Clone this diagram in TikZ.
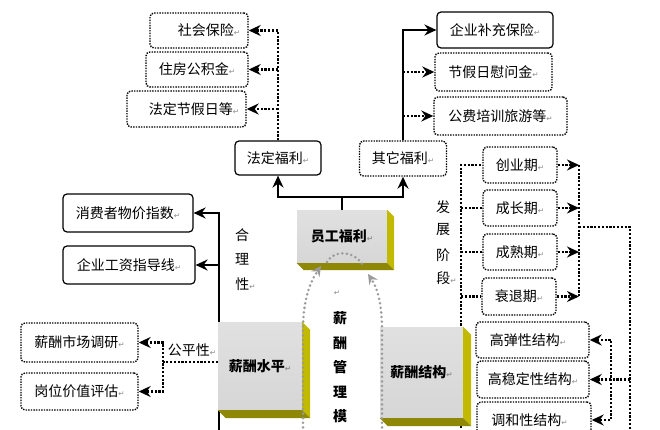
\documentclass[tikz,border=0pt]{standalone}
\usepackage{fontspec}
\usetikzlibrary{arrows.meta}
\newfontfamily\cjk{Noto Sans CJK SC}
\newfontfamily\djv{DejaVu Sans}
\newcommand\parmk{{\djv\fontsize{7.5}{7.5}\selectfont\color{black!45}↵}}
\definecolor{sidecol}{HTML}{C2BA00}
\definecolor{botcol}{HTML}{8E8806}
\definecolor{arcgray}{HTML}{9A9A9A}
\pgfdeclarelayer{back}
\pgfdeclarelayer{bg}
\pgfsetlayers{back,bg,main}
\tikzset{
  Ah/.tip={Stealth[length=12pt,width=11pt,inset=4pt]},
  Gh/.tip={Stealth[length=10pt,width=10pt,inset=3.5pt]},
  txt/.style={font=\cjk\fontsize{14}{16}\selectfont, inner sep=0pt},
  sbox/.style={txt, draw, line width=1.2pt, rounded corners=4pt, fill=white},
  dbox/.style={txt, draw, line width=1.4pt, dash pattern=on 1.4pt off 1.2pt, rounded corners=4pt, fill=white},
  cube/.style={txt, font=\cjk\bfseries\fontsize{14}{16}\selectfont, top color=white!88!black, bottom color=black!16, middle color=black!14},
  sline/.style={line width=2pt, line join=miter},
  dline/.style={line width=2.3pt, dash pattern=on 2.2pt off 1.6pt},
  garc/.style={arcgray, line width=2.8pt, dash pattern=on 0pt off 4.6pt, line cap=round},
  vtxt/.style={txt},
  vbtxt/.style={txt, font=\cjk\bfseries\fontsize{14}{16}\selectfont},
}
\begin{document}
\begin{tikzpicture}[x=1pt,y=-1pt]
\begin{pgfonlayer}{back}
\fill[white] (0,0) rectangle (660,430);
\end{pgfonlayer}
\useasboundingbox (0,0) rectangle (660,430);
\clip (0,0) rectangle (660,430);

% ---------- boxes ----------
\node[dbox, minimum width=98pt, minimum height=35pt] (shbx) at (199,30.5) {\hspace*{20pt}社会保险\parmk};
\node[dbox, minimum width=102pt, minimum height=35pt] (zfgjj) at (197,69.5) {住房公积金\parmk};
\node[dbox, minimum width=119pt, minimum height=36pt] (fdjr) at (186.5,109) {\hspace*{15pt}法定节假日等\parmk};
\node[sbox, minimum width=86pt, minimum height=34pt] (fdfl) at (278,158) {法定福利\parmk};
\node[dbox, minimum width=87pt, minimum height=35pt] (qtfl) at (403,158.5) {其它福利\parmk};
\node[sbox, minimum width=116pt, minimum height=36pt] (qybc) at (495,30) {企业补充保险\parmk};
\node[dbox, minimum width=117pt, minimum height=38pt] (jjr) at (493.5,72) {节假日慰问金\parmk};
\node[dbox, minimum width=133pt, minimum height=38pt] (gfpx) at (500.5,116) {公费培训旅游等\parmk};
\node[sbox, minimum width=130pt, minimum height=38pt] (xfz) at (128,213) {消费者物价指数\parmk};
\node[sbox, minimum width=132pt, minimum height=38pt] (qygz) at (129,265) {企业工资指导线\parmk};
\node[dbox, minimum width=117pt, minimum height=39pt] (xcsc) at (79.5,342.5) {薪酬市场调研\parmk};
\node[dbox, minimum width=117pt, minimum height=37pt] (gwjz) at (79.5,391.5) {岗位价值评估\parmk};
\node[dbox, minimum width=74pt, minimum height=36pt] (cyq) at (520,165) {创业期\parmk};
\node[dbox, minimum width=74pt, minimum height=36pt] (czq) at (520,208) {成长期\parmk};
\node[dbox, minimum width=74pt, minimum height=36pt] (csq) at (520,252) {成熟期\parmk};
\node[dbox, minimum width=74pt, minimum height=37pt] (stq) at (519,296.5) {衰退期\parmk};
\node[dbox, minimum width=113pt, minimum height=36pt] (gtx) at (532.5,340) {高弹性结构\parmk\hspace*{9pt}};
\node[dbox, minimum width=112pt, minimum height=37pt] (gwd) at (533,379.5) {高稳定性结构\parmk};
\node[dbox, minimum width=114pt, minimum height=36pt] (thx) at (534,420) {调和性结构\parmk\hspace*{9pt}};

% ---------- 3D boxes ----------
\node[cube, minimum width=90pt, minimum height=53pt] (ygfl) at (342,236.5) {员工福利\parmk};
\node[cube, minimum width=84pt, minimum height=88pt] (xcsp) at (260,366) {薪酬水平\parmk};
\node[cube, minimum width=83pt, minimum height=91pt] (xcjg) at (421.5,372.5) {薪酬结构\parmk};
\foreach \n/\d in {ygfl/7, xcsp/8, xcjg/8}{
  \fill[sidecol] (\n.north east) -- ([shift={(\d,\d)}]\n.north east) -- ([shift={(\d,\d)}]\n.south east) -- (\n.south east) -- cycle;
  \fill[botcol] (\n.south west) -- (\n.south east) -- ([shift={(\d,\d)}]\n.south east) -- ([shift={(\d,\d)}]\n.south west) -- cycle;
}

% ---------- labels ----------
\node[vtxt] (h1) at (242,235) {合};
\node[vtxt] (h2) at (242,259) {理};
\node[vtxt] (h3) at (245.5,284) {性\parmk};
\node[txt] (gpx) at (192,350) {公平性\parmk};
\node[vtxt] (f1) at (443,207) {发};
\node[vtxt] (f2) at (443,230) {展};
\node[vtxt] (f3) at (443,255) {阶};
\node[vtxt] (f4) at (446.5,278) {段\parmk};
\node[txt] (pm) at (337,293) {\parmk};
\node[vbtxt] (m1) at (340,318) {薪};
\node[vbtxt] (m2) at (340,343) {酬};
\node[vbtxt] (m3) at (340,367) {管};
\node[vbtxt] (m4) at (340,392) {理};
\node[vbtxt] (m5) at (340,416) {模};

% ---------- coordinates ----------
\coordinate (hub) at (342,197);
\coordinate (hl) at (219,213);
\coordinate (hlb) at (219,432);
\coordinate (gp) at (163,362);
\coordinate (sl) at (461,165);
\coordinate (slb) at (461,432);
\coordinate (sr) at (579,227);
\coordinate (far) at (630,227);
\coordinate (farb) at (630,432);
\coordinate (st) at (611,379);

% ---------- connectors ----------
\begin{pgfonlayer}{bg}
\draw[sline] (ygfl.north) -- (hub);
\draw[sline, Ah-Ah] (fdfl.south) |- (hub) -| (qtfl.south);
\draw[sline, -Ah] (qtfl.north) |- (qybc.west);
\draw[dline, -Ah] (qtfl.north |- jjr.west) -- (jjr.west);
\draw[dline, -Ah] (qtfl.north |- gfpx.west) -- (gfpx.west);
\draw[dline, -Ah] (fdfl.north) |- (shbx.east);
\draw[dline, -Ah] (fdfl.north |- zfgjj.east) -- (zfgjj.east);
\draw[dline, -Ah] (fdfl.north |- fdjr.east) -- (fdjr.east);
\draw[sline, -Ah] (hlb) |- (xfz.east);
\draw[sline, -Ah] (hl |- qygz.east) -- (qygz.east);
\draw[dline] (gp -| xcsp.west) -- (gp);
\draw[dline, Ah-Ah] (xcsc.east) -- (gp |- xcsc.east) -- (gp |- gwjz.east) -- (gwjz.east);
\draw[dline] (slb) -- (sl |- cyq.west) -- (cyq.west);
\draw[dline] (sl |- czq.west) -- (czq.west);
\draw[dline] (sl |- csq.west) -- (csq.west);
\draw[dline] (sl |- stq.west) -- (stq.west);
\draw[dline, -Ah] (cyq.east) -- (sr |- cyq.east);
\draw[dline, -Ah] (czq.east) -- (sr |- czq.east);
\draw[dline, -Ah] (csq.east) -- (sr |- csq.east);
\draw[dline, -Ah] (stq.east) -- (sr |- stq.east);
\draw[dline] (sr |- cyq.east) -- (sr |- stq.east);
\draw[dline] (sr) -- (far) -- (farb);
\draw[dline, -Ah] (far |- gwd.east) -- (gwd.east);
\draw[dline, Ah-Ah] (gtx.east) -- (st |- gtx.east) -- (st |- thx.east) -- (thx.east);
\end{pgfonlayer}

% ---------- gray cycle arcs ----------
\coordinate (al) at (303,432);
\coordinate (ar) at (382,432);
\coordinate (at1) at (321,266);
\coordinate (at2) at (368,274);
\draw[garc, -Gh] (al) -- (303,330) .. controls (303,300) and (310,282) .. (at1);
\draw[garc, -Gh] (ar) -- (382,330) .. controls (382,300) and (376,286) .. (at2);
\draw[garc] (327,262) .. controls (334,250) and (354,249) .. (364,267);
\end{tikzpicture}
\end{document}
